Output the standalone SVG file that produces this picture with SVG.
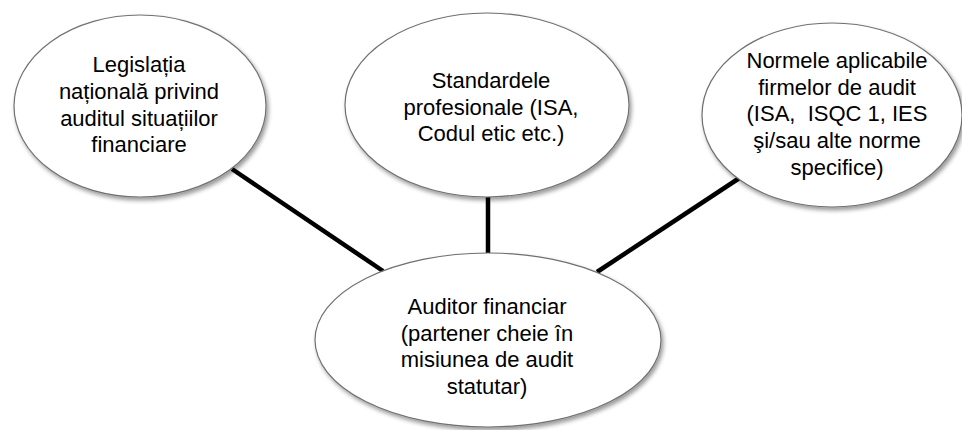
<svg xmlns="http://www.w3.org/2000/svg" width="962" height="430" viewBox="0 0 962 430">
<defs>
<filter id="sh" x="-10%" y="-10%" width="125%" height="130%">
<feDropShadow dx="2" dy="3" stdDeviation="2" flood-color="#000" flood-opacity="0.4"/>
</filter>
<style>
.node ellipse{fill:#fff;stroke:#707070;stroke-width:1.2;filter:url(#sh)}
.node text{font-family:"Liberation Sans",Arial,sans-serif;font-size:22px;fill:#000;text-anchor:middle}
.conn line{stroke:#000;stroke-width:4.5;stroke-linecap:butt}
</style>
</defs>
<rect width="962" height="430" fill="#fff"/>
<g id="connectors" class="conn">
<line x1="232" y1="169" x2="383" y2="271"/>
<line x1="488" y1="196" x2="488" y2="253"/>
<line x1="741" y1="177" x2="597" y2="272"/>
</g>
<g id="node-legislatia" class="node">
<ellipse cx="140" cy="106" rx="126" ry="91"/>
<text><tspan x="139" y="72">Legislația</tspan><tspan x="139" y="99">națională privind</tspan><tspan x="139" y="126">auditul situațiilor</tspan><tspan x="139" y="152">financiare</tspan></text>
</g>
<g id="node-standardele" class="node">
<ellipse cx="487" cy="105" rx="142" ry="92"/>
<text><tspan x="491" y="88">Standardele</tspan><tspan x="491" y="115">profesionale (ISA,</tspan><tspan x="491" y="141">Codul etic etc.)</tspan></text>
</g>
<g id="node-normele" class="node">
<ellipse cx="832" cy="115" rx="130" ry="92"/>
<text><tspan x="837" y="68">Normele aplicabile</tspan><tspan x="837" y="95">firmelor de audit</tspan><tspan x="837" y="121">(ISA,&#160; ISQC 1, IES</tspan><tspan x="837" y="148">şi/sau alte norme</tspan><tspan x="837" y="175">specifice)</tspan></text>
</g>
<g id="node-auditor" class="node">
<ellipse cx="488" cy="340" rx="173" ry="87"/>
<text><tspan x="487" y="314">Auditor financiar</tspan><tspan x="487" y="341">(partener cheie în</tspan><tspan x="487" y="367">misiunea de audit</tspan><tspan x="487" y="394">statutar)</tspan></text>
</g>
</svg>
